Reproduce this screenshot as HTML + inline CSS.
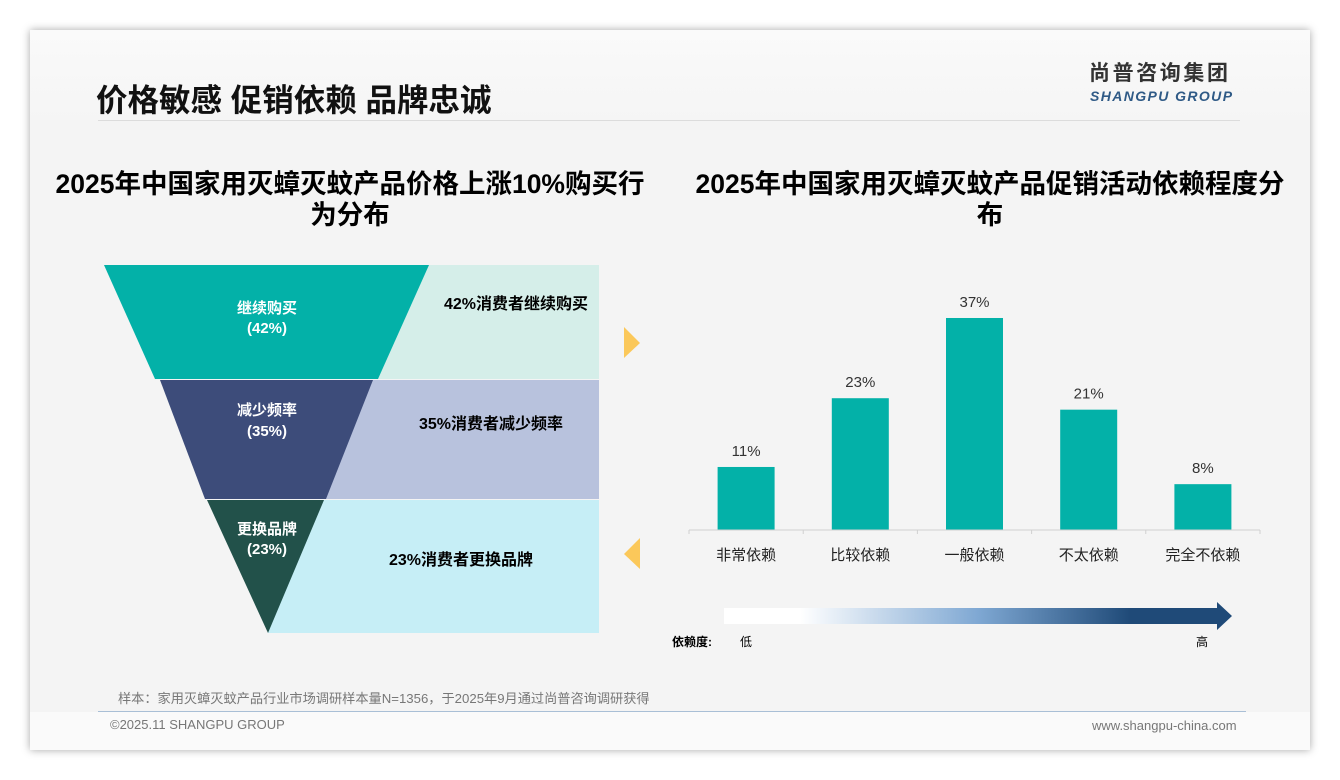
<!DOCTYPE html>
<html><head><meta charset="utf-8">
<style>
body{margin:0;width:1340px;height:780px;background:#fff;font-family:"Liberation Sans","Noto Sans CJK SC",sans-serif;position:relative;overflow:hidden}
.slide{position:absolute;left:30px;top:30px;width:1280px;height:720px;background:#f4f4f4;box-shadow:0 0 8px rgba(0,0,0,.35)}
.abs{position:absolute}
</style></head><body>
<div class="slide">
  <div class="abs" style="left:0;top:0;width:1280px;height:90px;background:linear-gradient(#fafafa,#f5f5f5)"></div>
  <div class="abs" style="left:66px;top:45px;font-size:31.5px;font-weight:bold;color:#111;white-space:nowrap">价格敏感 促销依赖 品牌忠诚</div>
  <div class="abs" style="left:1059px;top:31px;font-size:21px;line-height:26px;font-weight:bold;color:#333;letter-spacing:2.6px;white-space:nowrap">尚普咨询集团</div>
  <div class="abs" style="left:1060px;top:58px;font-size:14px;line-height:16px;font-weight:bold;font-style:italic;color:#2f5a86;letter-spacing:1.4px;white-space:nowrap">SHANGPU GROUP</div>
  <div class="abs" style="left:68px;top:90px;width:1142px;height:1px;background:#dcdcdc"></div>
  <div class="abs" style="left:0;top:139px;width:640px;text-align:center;font-size:26.5px;font-weight:bold;line-height:31px;color:#000">2025年中国家用灭蟑灭蚊产品价格上涨10%购买行<br>为分布</div>
  <div class="abs" style="left:640px;top:139px;width:640px;text-align:center;font-size:26.5px;font-weight:bold;line-height:31px;color:#000">2025年中国家用灭蟑灭蚊产品促销活动依赖程度分<br>布</div>
  <div class="abs" style="left:88px;top:658px;font-size:13.2px;color:#777;white-space:nowrap">样本：家用灭蟑灭蚊产品行业市场调研样本量N=1356，于2025年9月通过尚普咨询调研获得</div>
  <div class="abs" style="left:0;top:682px;width:1280px;height:38px;background:#fafafa"></div>
  <div class="abs" style="left:68px;top:681px;width:1148px;height:1px;background:#a9bfd6"></div>
  <div class="abs" style="left:80px;top:687px;font-size:13px;color:#777;white-space:nowrap">©2025.11 SHANGPU GROUP</div>
  <div class="abs" style="left:1062px;top:688px;font-size:13px;color:#777;white-space:nowrap">www.shangpu-china.com</div>
</div>
<svg class="abs" style="left:0;top:0" width="1340" height="780">
  <g>
    <rect x="268" y="265" width="331" height="114" fill="#d5eee9"/>
    <rect x="268" y="380" width="331" height="119" fill="#b8c2dd"/>
    <rect x="268" y="500" width="331" height="133" fill="#c6eef6"/>
    <polygon points="104,265 429,265 378,379 155,379" fill="#03b1a8"/>
    <polygon points="160,380 373,380 326,499 205,499" fill="#3d4c7a"/>
    <polygon points="207,500 324,500 268,633" fill="#22514a"/>
    <g font-weight="bold" font-size="15" text-anchor="middle" fill="#fff">
      <text x="267" y="313">继续购买</text>
      <text x="267" y="333">(42%)</text>
      <text x="267" y="415">减少频率</text>
      <text x="267" y="436">(35%)</text>
      <text x="267" y="534">更换品牌</text>
      <text x="267" y="554">(23%)</text>
    </g>
    <g font-weight="bold" font-size="16" text-anchor="middle" fill="#000">
      <text x="516" y="309">42%消费者继续购买</text>
      <text x="491" y="429">35%消费者减少频率</text>
      <text x="461" y="565">23%消费者更换品牌</text>
    </g>
    <polygon points="624,327 640,343 624,358" fill="#fbc85a"/>
    <polygon points="640,538 624,554 640,569" fill="#fbc85a"/>
  </g>
  <g id="bars"></g>
  <defs>
    <linearGradient id="gr" x1="0" x2="1">
      <stop offset="0" stop-color="#fff"/><stop offset="0.15" stop-color="#fff"/>
      <stop offset="0.5" stop-color="#7fa8d3"/><stop offset="0.8" stop-color="#1f4a78"/><stop offset="1" stop-color="#1f4a78"/>
    </linearGradient>
  </defs>
  <polygon points="724,608 1217,608 1217,602 1232,616 1217,630 1217,624 724,624" fill="url(#gr)"/>
  <text x="672" y="646" font-size="12" font-weight="bold" fill="#000">依赖度:</text>
  <text x="740" y="646" font-size="12" fill="#000">低</text>
  <text x="1196" y="646" font-size="12" fill="#000">高</text>
</svg>
<script>
const categories=["非常依赖","比较依赖","一般依赖","不太依赖","完全不依赖"];
const values=[11,23,37,21,8];
const valueLabels=["11%","23%","37%","21%","8%"];
const g=document.getElementById('bars');
const NS="http://www.w3.org/2000/svg";
const x0=689,x1=1260,baseY=530,pxPer=5.73;
const band=(x1-x0)/categories.length;
const xC=i=>x0+band*(i+0.5);
const yV=v=>baseY-v*pxPer;
function mk(t,a){const e=document.createElementNS(NS,t);for(const k in a)e.setAttribute(k,a[k]);g.appendChild(e);return e;}
categories.forEach((c,i)=>{
  const r=mk('rect',{x:xC(i)-28.5,y:yV(values[i]),width:57,height:baseY-yV(values[i]),fill:'#03b1a8'});
  
  
  const vl=mk('text',{x:xC(i),y:yV(values[i])-11,'text-anchor':'middle','font-size':15,fill:'#333'});vl.textContent=valueLabels[i];
  
  
  const cl=mk('text',{x:xC(i),y:560,'text-anchor':'middle','font-size':15,fill:'#222'});cl.textContent=c;
  
  
});
const ax=mk('line',{x1:x0,x2:x1,y1:baseY,y2:baseY,stroke:'#d0d0d0'});


for(let i=0;i<=categories.length;i++){const t=mk('line',{x1:x0+band*i,x2:x0+band*i,y1:baseY,y2:baseY+4,stroke:'#d0d0d0'});
  
  }
</script>
</body></html>
